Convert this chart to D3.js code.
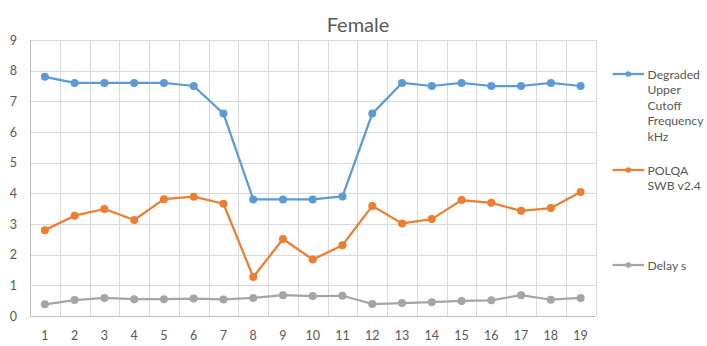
<!DOCTYPE html>
<html>
<head>
<meta charset="utf-8">
<script src="https://cdn.jsdelivr.net/npm/d3@7/dist/d3.min.js"></script>
<style>
  html, body { margin: 0; padding: 0; background: #fff; }
  svg { display: block; font-family: Lato, "Open Sans", sans-serif; }
</style>
</head>
<body>
<svg id="chart" width="707" height="346"></svg>
<script>
// Test cases 1..19
const categories = ["1","2","3","4","5","6","7","8","9","10","11","12","13","14","15","16","17","18","19"];

const cutoffKHz = [7.8, 7.6, 7.6, 7.6, 7.6, 7.5, 6.6, 3.8, 3.8, 3.8, 3.9, 6.6, 7.6, 7.5, 7.6, 7.5, 7.5, 7.6, 7.5];
const polqaSWB  = [2.80, 3.27, 3.49, 3.13, 3.81, 3.89, 3.66, 1.27, 2.51, 1.84, 2.31, 3.59, 3.02, 3.16, 3.78, 3.69, 3.43, 3.52, 4.04];
const delaySec  = [0.38, 0.52, 0.59, 0.55, 0.55, 0.57, 0.54, 0.59, 0.68, 0.65, 0.66, 0.39, 0.42, 0.45, 0.49, 0.51, 0.68, 0.53, 0.59];

const yTicks = [0, 1, 2, 3, 4, 5, 6, 7, 8, 9];

const seriesNames = [
  ["Degraded", "Upper", "Cutoff", "Frequency", "kHz"],
  ["POLQA", "SWB v2.4"],
  ["Delay s"]
];

const series = [
  { values: cutoffKHz, color: "#5B9BD5", label: seriesNames[0] },
  { values: polqaSWB,  color: "#ED7D31", label: seriesNames[1] },
  { values: delaySec,  color: "#A5A5A5", label: seriesNames[2] }
];

const svg = d3.select("#chart");
const plot = { left: 30, right: 595.5, top: 40, bottom: 316 };

const x = d3.scaleBand().domain(categories).range([plot.left, plot.right]);
const y = d3.scaleLinear().domain([0, 9]).range([plot.bottom, plot.top]);

// Title
svg.append("text")
  .attr("x", 358).attr("y", 32)
  .attr("text-anchor", "middle")
  .attr("font-size", 20)
  .attr("fill", "#595959")
  .text("Female");

// Horizontal gridlines
svg.append("g")
  .selectAll("line")
  .data(yTicks)
  .join("line")
  .attr("x1", plot.left).attr("x2", plot.right)
  .attr("y1", d => Math.round(y(d)) + 0.5).attr("y2", d => Math.round(y(d)) + 0.5)
  .attr("stroke", "#D9D9D9").attr("stroke-width", 1);

// Vertical gridlines at category boundaries
const bounds = categories.map(c => x(c)).concat([plot.right]);
svg.append("g")
  .selectAll("line")
  .data(bounds)
  .join("line")
  .attr("x1", d => Math.round(d) + 0.5).attr("x2", d => Math.round(d) + 0.5)
  .attr("y1", plot.top).attr("y2", plot.bottom)
  .attr("stroke", "#D9D9D9").attr("stroke-width", 1);

// Axis lines
svg.append("line")
  .attr("x1", Math.round(plot.left) + 0.5).attr("x2", Math.round(plot.left) + 0.5)
  .attr("y1", plot.top).attr("y2", plot.bottom)
  .attr("stroke", "#BFBFBF");
svg.append("line")
  .attr("x1", plot.left).attr("x2", plot.right)
  .attr("y1", Math.round(y(0)) + 0.5).attr("y2", Math.round(y(0)) + 0.5)
  .attr("stroke", "#BFBFBF");

// Y-axis labels
svg.append("g")
  .selectAll("text")
  .data(yTicks)
  .join("text")
  .attr("x", 17)
  .attr("y", d => y(d) + 4.5)
  .attr("text-anchor", "end")
  .attr("font-size", 12.5)
  .attr("fill", "#595959")
  .text(d => d);

// X-axis labels
svg.append("g")
  .selectAll("text")
  .data(categories)
  .join("text")
  .attr("x", d => x(d) + x.bandwidth() / 2)
  .attr("y", 340)
  .attr("text-anchor", "middle")
  .attr("font-size", 12.5)
  .attr("fill", "#595959")
  .text(d => d);

// Lines and markers
const line = d3.line()
  .x((d, i) => x(categories[i]) + x.bandwidth() / 2)
  .y(d => y(d));

series.forEach(s => {
  const g = svg.append("g");
  g.append("path")
    .datum(s.values)
    .attr("d", line)
    .attr("fill", "none")
    .attr("stroke", s.color)
    .attr("stroke-width", 2.25)
    .attr("stroke-linejoin", "round");
  g.selectAll("circle")
    .data(s.values)
    .join("circle")
    .attr("cx", (d, i) => x(categories[i]) + x.bandwidth() / 2)
    .attr("cy", d => y(d))
    .attr("r", 4)
    .attr("fill", s.color);
});

// Legend
const legendY = [74, 170, 265];
const lg = svg.append("g");
series.forEach((s, k) => {
  const cy = legendY[k];
  lg.append("line")
    .attr("x1", 612.5).attr("x2", 644)
    .attr("y1", cy).attr("y2", cy)
    .attr("stroke", s.color).attr("stroke-width", 2.25);
  lg.append("circle")
    .attr("cx", 628.3).attr("cy", cy).attr("r", 2.8)
    .attr("fill", s.color);
  const t = lg.append("text")
    .attr("x", 647.5)
    .attr("font-size", 12.2)
    .attr("fill", "#595959");
  s.label.forEach((ln, j) => {
    t.append("tspan")
      .attr("x", 647.5)
      .attr("y", cy + 4.5 + j * 15.5)
      .text(ln);
  });
});
</script>
</body>
</html>
